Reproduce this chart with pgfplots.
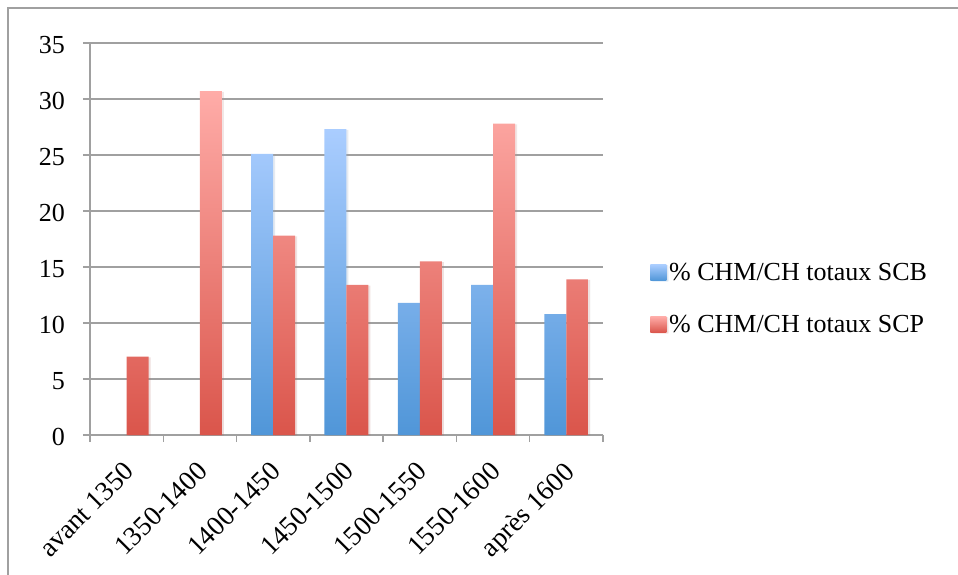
\documentclass[border=0pt]{standalone}
\usepackage{fontspec}
\setmainfont{Liberation Serif}
\usepackage{pgfplots}
\pgfplotsset{compat=1.18}
\usetikzlibrary{shadows}
\definecolor{gridgray}{RGB}{160,160,160}
\definecolor{bluetop}{RGB}{170,205,255}
\definecolor{bluebot}{RGB}{80,150,216}
\definecolor{redtop}{RGB}{255,172,168}
\definecolor{redbot}{RGB}{218,85,75}
\begin{document}
\begin{tikzpicture}
\useasboundingbox (-67.5pt,-105pt) rectangle (651pt,326.25pt);
\draw[gridgray, line width=1.1pt] (-61.5pt,-106pt) -- (-61.5pt,320.25pt) -- (652pt,320.25pt);
\begin{axis}[
  at={(0,0)}, anchor=south west,
  scale only axis, width=384.75pt, height=294pt,
  ybar=0pt, bar width=16.5pt,
  xmin=-0.5, xmax=6.5, ymin=0, ymax=35,
  ytick={0,5,...,35},
  xtick={0,...,6},
  xticklabels={avant 1350,1350-1400,1400-1450,1450-1500,1500-1550,1550-1600,après 1600},
  minor xtick={-0.5,0.5,...,6.5},
  major x tick style={draw=none},
  axis x line*=bottom, axis y line*=left,
  axis line style={gridgray, line width=1.1pt, -},
  tick style={gridgray, line width=1.1pt},
  ymajorgrids, grid style={gridgray, line width=1.1pt},
  tick align=outside, major tick length=5.25pt, minor tick length=5.25pt,
  /pgf/number format/assume math mode=true,
  tick label style={font=\fontsize{19.5}{22}\selectfont, text=black},
  yticklabel style={xshift=-10pt, yshift=-1.5pt},
  xticklabel style={font=\fontsize{20.5}{24}\selectfont, xshift=-3pt, yshift=-13.5pt, rotate=45, anchor=north east, inner sep=0pt},
  legend style={draw=none, fill=none, at={(1.092,0.348)}, anchor=west,
    font=\fontsize{19.5}{22}\selectfont, row sep=20.5pt, inner sep=0pt},
  legend cell align=left,
  legend image code/.code={\path[#1, draw=none] (0pt,-6pt) rectangle (12pt,6pt);},
]
\addplot[draw=none, top color=bluetop, bottom color=bluebot,
  drop shadow={shadow xshift=1.5pt, shadow yshift=-0.5pt, opacity=0.12}] coordinates {(2,25.1) (3,27.3) (4,11.8) (5,13.4) (6,10.8)};
\addplot[draw=none, top color=redtop, bottom color=redbot,
  drop shadow={shadow xshift=1.5pt, shadow yshift=-0.5pt, opacity=0.12}] coordinates {(0,7.0) (1,30.7) (2,17.8) (3,13.4) (4,15.5) (5,27.8) (6,13.9)};
\legend{\% CHM/CH totaux SCB, \% CHM/CH totaux SCP}
\end{axis}
\end{tikzpicture}
\end{document}
